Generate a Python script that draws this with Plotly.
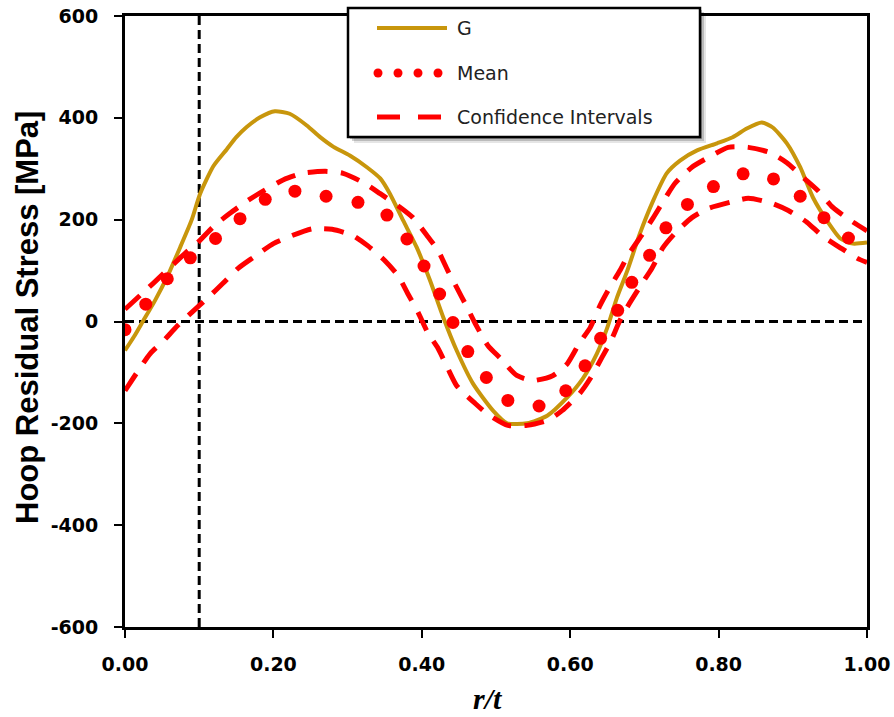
import plotly.graph_objects as go

# ---------------- data ----------------
g_x = [0.000, 0.012, 0.024, 0.040, 0.057, 0.075, 0.090, 0.101, 0.119, 0.137, 0.150,
       0.164, 0.182, 0.202, 0.222, 0.245, 0.263, 0.281, 0.303, 0.326, 0.344, 0.357,
       0.375, 0.393, 0.411, 0.429, 0.447, 0.469, 0.496, 0.515, 0.542, 0.569, 0.596,
       0.617, 0.636, 0.650, 0.663, 0.677, 0.694, 0.712, 0.730, 0.748, 0.771, 0.798,
       0.819, 0.838, 0.858, 0.873, 0.892, 0.910, 0.927, 0.946, 0.964, 0.981, 1.000]
g_y = [-57, -30, 0, 40, 88, 148, 200, 250, 305, 338, 362,
       382, 401, 413, 408, 385, 362, 343, 326, 303, 281, 251,
       198, 146, 81, 8, -57, -122, -175, -200, -200, -185, -149,
       -112, -63, -12, 47, 100, 173, 238, 291, 316, 336, 350,
       362, 379, 391, 381, 350, 303, 244, 198, 163, 153, 155]

mean_x = [0.000, 0.028, 0.057, 0.088, 0.122, 0.155, 0.189, 0.229, 0.271, 0.314, 0.353,
          0.380, 0.403, 0.424, 0.442, 0.462, 0.487, 0.516, 0.558, 0.594, 0.620, 0.641,
          0.664, 0.683, 0.707, 0.729, 0.758, 0.793, 0.833, 0.874, 0.910, 0.942, 0.975]
mean_y = [-16, 34, 84, 125, 163, 202, 240, 256, 246, 234, 209,
          162, 109, 54, -2, -59, -110, -155, -166, -136, -87, -33,
          22, 77, 130, 184, 230, 265, 290, 280, 246, 204, 164]

ci_up_x = [0.000, 0.038, 0.081, 0.098, 0.121, 0.141, 0.166, 0.186, 0.213, 0.239, 0.270,
           0.294, 0.321, 0.344, 0.371, 0.388, 0.407, 0.422, 0.435, 0.447, 0.461, 0.472,
           0.489, 0.505, 0.528, 0.550, 0.577, 0.596, 0.613, 0.627, 0.640, 0.651, 0.667,
           0.678, 0.698, 0.712, 0.728, 0.741, 0.764, 0.786, 0.813, 0.840, 0.869, 0.892,
           0.914, 0.934, 0.954, 0.974, 1.000]
ci_up_y = [24, 75, 134, 155, 189, 212, 238, 256, 278, 291, 295,
           291, 273, 251, 224, 204, 169, 139, 100, 67, 28, -4,
           -47, -71, -106, -116, -106, -83, -41, -12, 31, 61, 100,
           130, 173, 204, 242, 271, 303, 322, 342, 342, 332, 312,
           283, 257, 224, 202, 178]

ci_lo_x = [0.000, 0.034, 0.050, 0.071, 0.090, 0.112, 0.132, 0.152, 0.173, 0.200, 0.222,
           0.252, 0.279, 0.307, 0.327, 0.350, 0.368, 0.381, 0.395, 0.408, 0.422, 0.435,
           0.447, 0.472, 0.488, 0.516, 0.542, 0.570, 0.589, 0.613, 0.627, 0.643, 0.654,
           0.667, 0.678, 0.697, 0.710, 0.725, 0.741, 0.764, 0.786, 0.815, 0.840, 0.872,
           0.894, 0.919, 0.939, 0.966, 0.987, 1.000]
ci_lo_y = [-136, -63, -41, -8, 18, 47, 75, 104, 126, 153, 167,
           182, 181, 169, 149, 120, 90, 55, 18, -22, -53, -92,
           -126, -161, -181, -204, -204, -194, -175, -141, -112, -70, -41,
           2, 31, 75, 104, 145, 173, 204, 222, 234, 242, 232,
           218, 195, 169, 143, 124, 116]

ref_v_x = [0.1, 0.1]
ref_v_y = [-600, 600]
ref_h_x = [0.0, 1.0]
ref_h_y = [0, 0]

x_ticks = [0.0, 0.2, 0.4, 0.6, 0.8, 1.0]
y_ticks = [-600, -400, -200, 0, 200, 400, 600]

legend_names = ["G", "Mean", "Confidence Intervals"]

# ---------------- styling ----------------
W, H = 894, 717
ML, MR, MT, MB = 125, 27, 16, 90
PW, PH = W - ML - MR, H - MT - MB
GOLD = "#C8960C"
RED = "#FF0000"


def px(xs):
    """page x in pixels -> paper fraction"""
    return (xs - ML) / PW


def py(ys):
    """page y in pixels -> paper fraction"""
    return (H - MB - ys) / PH


fig = go.Figure()

fig.add_trace(go.Scatter(x=ref_h_x, y=ref_h_y, mode="lines", showlegend=False,
                         line=dict(color="black", width=3, dash="9px,5px")))
fig.add_trace(go.Scatter(x=ref_v_x, y=ref_v_y, mode="lines", showlegend=False,
                         line=dict(color="black", width=3, dash="9px,5px")))
fig.add_trace(go.Scatter(x=g_x, y=g_y, mode="lines", name=legend_names[0], showlegend=False,
                         line=dict(color=GOLD, width=4, shape="spline", smoothing=0.6)))
fig.add_trace(go.Scatter(x=ci_up_x, y=ci_up_y, mode="lines", name=legend_names[2], showlegend=False,
                         line=dict(color=RED, width=5, dash="20px,13px", shape="spline", smoothing=0.6)))
fig.add_trace(go.Scatter(x=ci_lo_x, y=ci_lo_y, mode="lines", name=legend_names[2], showlegend=False,
                         line=dict(color=RED, width=5, dash="20px,13px", shape="spline", smoothing=0.6)))
fig.add_trace(go.Scatter(x=mean_x, y=mean_y, mode="markers", name=legend_names[1], showlegend=False,
                         marker=dict(color=RED, size=13, line=dict(width=0))))

shapes = []
annotations = []

# custom legend box (with soft shadow)
bx0, by0, bx1, by1 = 348, 8, 700, 137
for off, alpha in [(6, 0.10), (4, 0.18), (2, 0.25)]:
    shapes.append(dict(type="rect", xref="paper", yref="paper", layer="above",
                       x0=px(bx0 + off), x1=px(bx1 + off), y0=py(by1 + off), y1=py(by0 + off),
                       fillcolor=f"rgba(0,0,0,{alpha})", line=dict(width=0)))
shapes.append(dict(type="rect", xref="paper", yref="paper", layer="above",
                   x0=px(bx0), x1=px(bx1), y0=py(by1), y1=py(by0),
                   fillcolor="white", line=dict(color="black", width=2.5)))
# legend samples
shapes.append(dict(type="line", xref="paper", yref="paper", layer="above",
                   x0=px(377), x1=px(447), y0=py(28), y1=py(28),
                   line=dict(color=GOLD, width=4)))
for cx in [378, 398, 418, 438]:
    r = 4.5
    shapes.append(dict(type="circle", xref="paper", yref="paper", layer="above",
                       x0=px(cx - r), x1=px(cx + r), y0=py(73 + r), y1=py(73 - r),
                       fillcolor=RED, line=dict(width=0)))
for xa, xb in [(377, 400), (418, 441)]:
    shapes.append(dict(type="line", xref="paper", yref="paper", layer="above",
                       x0=px(xa), x1=px(xb), y0=py(117), y1=py(117),
                       line=dict(color=RED, width=5)))
for name, yy in zip(legend_names, [28, 73, 117]):
    annotations.append(dict(text=name, xref="paper", yref="paper", x=px(455), y=py(yy),
                            xanchor="left", yanchor="middle", showarrow=False,
                            font=dict(family="DejaVu Sans", size=19, color="#222222")))

# axis titles
annotations.append(dict(text="<b>Hoop Residual Stress [MPa]</b>", xref="paper", yref="paper",
                        x=px(28), y=py(318), textangle=-90, showarrow=False,
                        xanchor="center", yanchor="middle",
                        font=dict(family="Liberation Sans", size=31, color="black")))
annotations.append(dict(text="<b><i>r/t</i></b>", xref="paper", yref="paper",
                        x=px(488), y=py(698), showarrow=False,
                        xanchor="center", yanchor="middle",
                        font=dict(family="Liberation Serif", size=30, color="black")))

axis_common = dict(showgrid=False, zeroline=False, showline=True, linecolor="black",
                   linewidth=3, mirror=True, ticks="outside", ticklen=8, tickwidth=2,
                   tickcolor="black", automargin=False, ticklabeloverflow="allow",
                   tickfont=dict(family="DejaVu Sans", size=19, color="black", weight="bold"))

fig.update_layout(
    width=W, height=H,
    margin=dict(l=ML, r=MR, t=MT, b=MB, pad=0, autoexpand=False),
    paper_bgcolor="white", plot_bgcolor="white",
    showlegend=False,
    hovermode=False,
    xaxis=dict(range=[0, 1], tickvals=x_ticks, ticktext=[f"{v:.2f}" for v in x_ticks],
               ticklabelstandoff=10, **axis_common),
    yaxis=dict(range=[-600, 600], tickvals=y_ticks, ticktext=[str(v) for v in y_ticks],
               ticklabelstandoff=12, **axis_common),
    shapes=shapes,
    annotations=annotations,
)

# remove the browser's default page margin so the figure fills the window exactly
fig.write_html("out.html", config={"displayModeBar": False},
               post_script="document.body.style.margin='0';")
